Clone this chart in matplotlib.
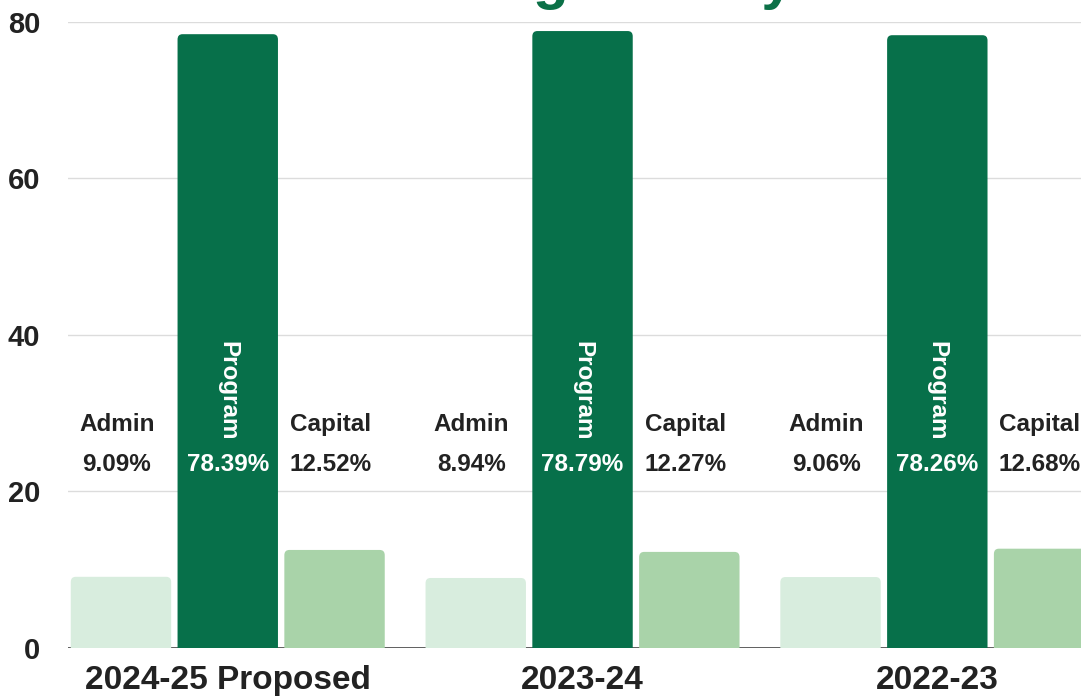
import matplotlib.pyplot as plt
from matplotlib.patches import FancyBboxPatch
import numpy as np

plt.rcParams['font.family'] = ['Liberation Sans', 'DejaVu Sans']

years = ['2024-25 Proposed', '2023-24', '2022-23']
categories = ['Admin', 'Program', 'Capital']
admin = [9.09, 8.94, 9.06]
program = [78.39, 78.79, 78.26]
capital = [12.52, 12.27, 12.68]
colors = ['#d8edde', '#07704a', '#a9d3a9']

fig = plt.figure(figsize=(10.81, 6.96), dpi=100)
ax = fig.add_axes([0.063, 0.069, 0.937, 0.9])

x = np.arange(len(years))
step = 0.301
width = 0.283
series = [admin, program, capital]

# grid + baseline
for v in [20, 40, 60, 80]:
    ax.axhline(v, color='#dcdcdc', lw=1, zorder=0)
ax.axhline(0, color='#444444', lw=1.2, zorder=0.5)

for i, (cat, vals, col) in enumerate(zip(categories, series, colors)):
    for xi, v in zip(x, vals):
        left = xi + (i - 1) * step - width / 2
        bar = FancyBboxPatch((left, -3), width, v + 3,
                             boxstyle='round,pad=0,rounding_size=0.014',
                             mutation_aspect=48, facecolor=col,
                             edgecolor='none', zorder=2)
        ax.add_patch(bar)
        cx = xi + (i - 1) * step
        if cat == 'Program':
            ax.text(cx, 32.8, cat, rotation=-90, ha='center', va='center',
                    color='white', fontsize=17.5, fontweight='bold', zorder=3)
            ax.text(cx, 23.4, f'{v:.2f}%', ha='center', va='center',
                    color='white', fontsize=17.5, fontweight='bold', zorder=3)
        else:
            ax.text(cx - 0.012, 28.6, cat, ha='center', va='center',
                    color='#222222', fontsize=17.5, fontweight='bold', zorder=3)
            ax.text(cx - 0.012, 23.4, f'{v:.2f}%', ha='center', va='center',
                    color='#222222', fontsize=17.5, fontweight='bold', zorder=3)

ax.set_xlim(-0.45, 2.405)
ax.set_ylim(0, 80)
ax.set_yticks([0, 20, 40, 60, 80])
ax.set_xticks(x)
ax.set_xticklabels(years)
ax.tick_params(axis='both', length=0, colors='#222222')
ax.tick_params(axis='y', labelsize=21, pad=20)
ax.tick_params(axis='x', labelsize=24, pad=12)
for lbl in ax.get_xticklabels() + ax.get_yticklabels():
    lbl.set_fontweight('bold')
for s in ax.spines.values():
    s.set_visible(False)

# title, cut off at the top of the page (only descenders show)
fig.text(0.19, 1 + 2.0 / 696, 'Annual Budget Analysis', ha='left', va='baseline',
         color='#0b7047', fontsize=42, fontweight='bold')

fig.savefig('out.png', dpi=100)
